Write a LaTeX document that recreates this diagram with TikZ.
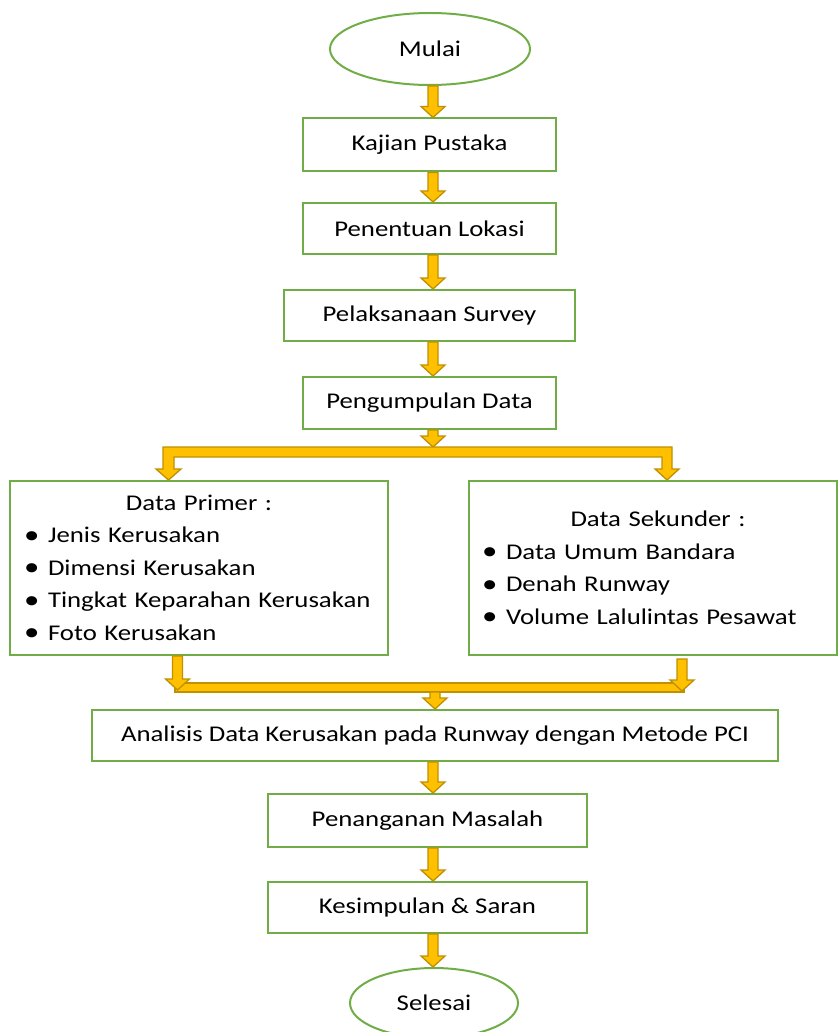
\documentclass[tikz,border=0pt]{standalone}
\usepackage{fontspec}
\usepackage{graphicx}
\setmainfont{Carlito}[FakeStretch=1.19]
\usetikzlibrary{calc,shapes.geometric}
\definecolor{boxgreen}{HTML}{70AD47}
\definecolor{arrfill}{HTML}{FFC000}
\definecolor{arrdraw}{HTML}{BF9000}
\newcommand\bulletitem{\makebox[24pt][l]{\raisebox{-0.5pt}{\scalebox{1.15}{\textbullet}}}}
\newcommand\blkarrow[2]{%
  \path #1 coordinate (ba-s) #2 coordinate (ba-e);
  \draw[blockarrow] ($(ba-s)+(-5,0)$) -- ($(ba-e)+(-5,-11)$) -- ($(ba-e)+(-12,-11)$) -- (ba-e)
    -- ($(ba-e)+(12,-11)$) -- ($(ba-e)+(5,-11)$) -- ($(ba-s)+(5,0)$) -- cycle;}
\begin{document}
\begin{tikzpicture}[x=1pt,y=-1pt,
  box/.style={draw=boxgreen, line width=2pt, rectangle, inner sep=0pt,
    font=\fontsize{22.5}{32.5}\selectfont, text=black},
  term/.style={draw=boxgreen, line width=2pt, ellipse, inner sep=0pt,
    font=\fontsize{22.5}{32.5}\selectfont, text=black},
  blockarrow/.style={fill=arrfill, draw=arrdraw, line width=1.3pt, line join=miter}]
\useasboundingbox (0,0) rectangle (838,1032);

% nodes
\node[term, minimum width=200, minimum height=72] (start) at (430,49) {Mulai};
\node[box, minimum width=253, minimum height=53] (kajian) at (429.5,145) {Kajian Pustaka};
\node[box, minimum width=253, minimum height=51] (lokasi) at (429.5,228.5) {Penentuan Lokasi};
\node[box, minimum width=291, minimum height=51] (survey) at (429.5,315.5) {Pelaksanaan Survey};
\node[box, minimum width=253, minimum height=52] (kumpul) at (429.5,403) {Pengumpulan Data};
\node[box, minimum width=378, minimum height=174, text width=350, inner xsep=14pt, align=left]
  (primer) at (199,568)
  {\makebox[\hsize][c]{Data Primer :}\\
   \bulletitem Jenis Kerusakan\\
   \bulletitem Dimensi Kerusakan\\
   \bulletitem Tingkat Keparahan Kerusakan\\
   \bulletitem Foto Kerusakan};
\node[box, minimum width=368, minimum height=174, text width=342, inner xsep=13pt, align=left]
  (sekunder) at (653,568)
  {\makebox[\hsize][c]{\hspace{10pt}Data Sekunder :}\\
   \bulletitem Data Umum Bandara\\
   \bulletitem Denah Runway\\
   \bulletitem Volume Lalulintas Pesawat};
\node[box, minimum width=686, minimum height=51] (analisis) at (435,735.5)
  {Analisis Data Kerusakan pada Runway dengan Metode PCI};
\node[box, minimum width=319, minimum height=53] (penanganan) at (427.5,820.5) {Penanganan Masalah};
\node[box, minimum width=319, minimum height=51] (kesimpulan) at (427.5,907.5) {Kesimpulan \& Saran};
\node[term, minimum width=168, minimum height=70] (selesai) at (434,1003) {Selesai};

% helper coordinates
\coordinate (ax) at (433,0);
\coordinate (split) at (433,447);
\coordinate (mergeL) at (177.5,0);
\coordinate (mergeR) at (682,0);
\coordinate (mtipL) at (177.5,690);
\coordinate (mtipR) at (682,691);
\coordinate (mbar) at (435,692);

% straight arrows
\blkarrow{(start.south -| ax)}{(kajian.north -| ax)}
\blkarrow{(kajian.south -| ax)}{(lokasi.north -| ax)}
\blkarrow{(lokasi.south -| ax)}{(survey.north -| ax)}
\blkarrow{(survey.south -| ax)}{(kumpul.north -| ax)}
\blkarrow{(kumpul.south -| ax)}{(split)}

% split bar
\draw[blockarrow] (163,447) -- (672,447) -- (672,469) -- (679,469) -- (667,480) -- (655,469)
  -- (662,469) -- (662,457) -- (174,457) -- (174,469) -- (181,469) -- (168.5,480)
  -- (156,469) -- (163,469) -- cycle;

% merge bar
\draw[blockarrow] (175,683) rectangle (684,692);
\blkarrow{(primer.south -| mergeL)}{(mtipL)}
\blkarrow{($(sekunder.south -| mergeR)+(0,3)$)}{(mtipR)}
\blkarrow{(mbar)}{(analisis.north -| mbar)}

\blkarrow{(analisis.south -| ax)}{(penanganan.north -| ax)}
\blkarrow{(penanganan.south -| ax)}{(kesimpulan.north -| ax)}
\blkarrow{(kesimpulan.south -| ax)}{(selesai.north -| ax)}
\end{tikzpicture}
\end{document}
